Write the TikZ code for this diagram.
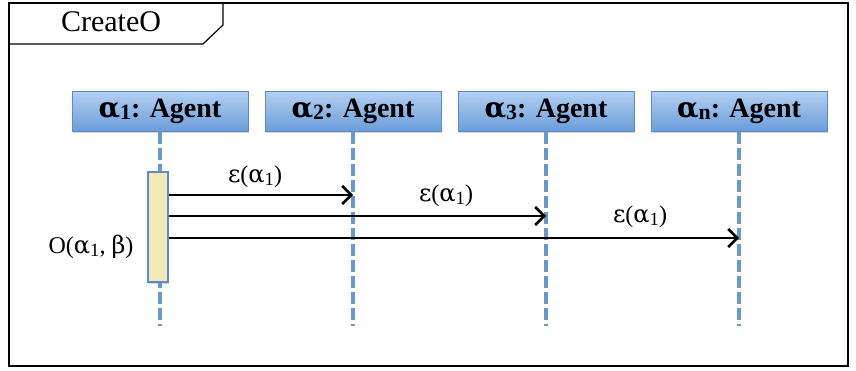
\documentclass[tikz,border=0pt]{standalone}
\usepackage{fontspec}
\setmainfont{Liberation Serif}
\newfontfamily\grkfont{DejaVu Serif}
\usetikzlibrary{arrows.meta,shadows}
\definecolor{boxtop}{HTML}{B4D0F0}
\definecolor{boxbot}{HTML}{6A9DDA}
\definecolor{boxline}{HTML}{5B8BC9}
\definecolor{lifeline}{HTML}{6699CC}
\definecolor{actfill}{HTML}{F3E8BA}
\newcommand{\galpha}{{\grkfont α}}
\newcommand{\geps}{{\grkfont ε}}
\newcommand{\gbeta}{{\grkfont β}}
\newcommand{\lowsub}[1]{\raisebox{-0.22ex}{\scalebox{0.78}{#1}}}
\tikzset{
  agent/.style={draw=boxline, line width=1pt, top color=boxtop, bottom color=boxbot,
    minimum width=176pt, minimum height=40pt, inner sep=0pt,
    font=\fontsize{28}{30}\selectfont\bfseries,
    drop shadow={shadow xshift=1pt, shadow yshift=-2pt, opacity=0.35}},
  life/.style={draw=lifeline, line width=3.2pt, dash pattern=on 12pt off 4pt},
  msg/.style={draw=black, line width=1.8pt, -{Straight Barb[length=9pt,width=18pt,line width=2.6pt]}},
  lbl/.style={font=\fontsize{24}{26}\selectfont},
  frame/.style={draw=black, line width=1.2pt}
}
\begin{document}
\begin{tikzpicture}[x=1pt,y=-1pt]
\useasboundingbox (0,0) rectangle (856,370);
% frame
\draw[frame] (9,3) rectangle (848,366);
\draw[frame] (9,44) -- (203,44) -- (223,25) -- (223,3);
\node[font=\fontsize{30}{32}\selectfont] (title) at (111,22) {CreateO};
% agents
\node[agent] (a1) at (160,111) {\galpha\lowsub{1}: Agent};
\node[agent] (a2) at (353,111) {\galpha\lowsub{2}: Agent};
\node[agent] (a3) at (546,111) {\galpha\lowsub{3}: Agent};
\node[agent] (an) at (739,111) {\galpha\lowsub{n}: Agent};
% lifeline ends
\coordinate (e1) at (160,326);
\coordinate (e2) at (353,326);
\coordinate (e3) at (546,326);
\coordinate (en) at (739,326);
\draw[life] (a1.south) -- (e1);
\draw[life] (a2.south) -- (e2);
\draw[life] (a3.south) -- (e3);
\draw[life] (an.south) -- (en);
% activation
\node[draw=boxline, line width=1.2pt, fill=actfill, minimum width=20pt, minimum height=110pt, inner sep=0pt,
  drop shadow={shadow xshift=1pt, shadow yshift=-2pt, opacity=0.3}] (act) at (158,227) {};
\node[lbl] (olbl) at (91,247) {O(\galpha\lowsub{1}, \gbeta)};
% messages
\coordinate (t1) at (353,195);
\coordinate (t2) at (546,216);
\coordinate (t3) at (739,238);
\draw[msg] (act.east |- t1) -- (t1);
\draw[msg] (act.east |- t2) -- (t2);
\draw[msg] (act.east |- t3) -- (t3);
\node[lbl] (m1) at (255,177) {\geps(\galpha\lowsub{1})};
\node[lbl] (m2) at (446,196) {\geps(\galpha\lowsub{1})};
\node[lbl] (m3) at (640,217) {\geps(\galpha\lowsub{1})};
\end{tikzpicture}
\end{document}
